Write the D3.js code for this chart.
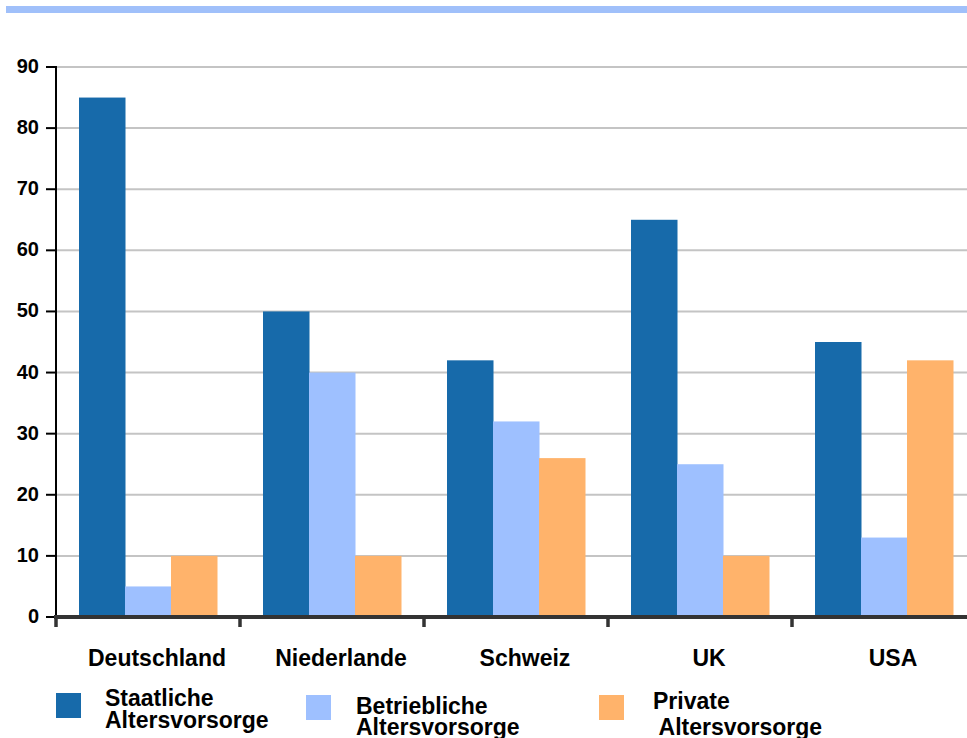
<!DOCTYPE html>
<html>
<head>
<meta charset="utf-8">
<script src="https://cdn.jsdelivr.net/npm/d3@7"></script>
<style>
  html, body { margin: 0; padding: 0; background: #fff; }
  svg { display: block; font-family: "Liberation Sans", Arial, sans-serif; font-weight: bold; }
</style>
</head>
<body>
<svg id="chart" width="967" height="738"></svg>
<script>
const categories = ["Deutschland", "Niederlande", "Schweiz", "UK", "USA"];
const seriesNames = ["Staatliche Altersvorsorge", "Betriebliche Altersvorsorge", "Private Altersvorsorge"];
const legendLines = [["Staatliche", "Altersvorsorge"], ["Betriebliche", "Altersvorsorge"], ["Private", " Altersvorsorge"]];
const staatliche = [85, 50, 42, 65, 45];
const betriebliche = [5, 40, 32, 25, 13];
const privat = [10, 10, 26, 10, 42];
const yTicks = [0, 10, 20, 30, 40, 50, 60, 70, 80, 90];
const colors = ["#176aaa", "#9ec0ff", "#ffb36b"];

const series = [staatliche, betriebliche, privat];
const svg = d3.select("#chart");

// top band
svg.append("rect").attr("x", 6).attr("y", 6).attr("width", 961).attr("height", 7).attr("fill", "#a0c0fa");

const x = d3.scaleBand().domain(categories).range([56, 976]).paddingInner(0.25).paddingOuter(0.125);
const xs = d3.scaleBand().domain(seriesNames).range([0, x.bandwidth()]);
const y = d3.scaleLinear().domain([0, 90]).range([617, 67]);

// gridlines
svg.append("g").selectAll("line").data(yTicks.filter(d => d > 0)).join("line")
  .attr("x1", 56).attr("x2", 967)
  .attr("y1", d => y(d)).attr("y2", d => y(d))
  .attr("stroke", "#c4c4c4").attr("stroke-width", 2);

// bars
const groups = svg.append("g").selectAll("g").data(categories).join("g")
  .attr("transform", d => `translate(${x(d)},0)`);
groups.selectAll("rect").data((c, i) => seriesNames.map((s, j) => ({ s, j, v: series[j][i] }))).join("rect")
  .attr("x", d => xs(d.s))
  .attr("width", xs.bandwidth() + 0.5)
  .attr("y", d => y(d.v))
  .attr("height", d => y(0) - y(d.v))
  .attr("fill", d => colors[d.j]);

// y axis
const yAxis = svg.append("g");
yAxis.append("line").attr("x1", 56).attr("x2", 56).attr("y1", y(90) - 1).attr("y2", y(0)).attr("stroke", "#000").attr("stroke-width", 2);
yAxis.selectAll("line.tick").data(yTicks).join("line").attr("class", "tick")
  .attr("x1", 46).attr("x2", 56).attr("y1", d => y(d)).attr("y2", d => y(d))
  .attr("stroke", "#000").attr("stroke-width", 2);
yAxis.selectAll("text").data(yTicks).join("text")
  .attr("x", 39).attr("y", d => y(d) + 6)
  .attr("text-anchor", "end").attr("font-size", 20).attr("fill", "#000")
  .text(d => d);

// x axis
const xAxis = svg.append("g");
xAxis.append("line").attr("x1", 54).attr("x2", 967).attr("y1", y(0)).attr("y2", y(0)).attr("stroke", "#333").attr("stroke-width", 4);
const tickPos = categories.map(c => x(c) - x.step() * x.paddingInner() / 2);
xAxis.selectAll("line.tick").data(tickPos).join("line").attr("class", "tick")
  .attr("x1", d => d).attr("x2", d => d).attr("y1", y(0)).attr("y2", y(0) + 10)
  .attr("stroke", "#333").attr("stroke-width", 3.5);
xAxis.selectAll("text").data(categories).join("text")
  .attr("x", d => x(d) + x.bandwidth() / 2 + 9).attr("y", 666)
  .attr("text-anchor", "middle").attr("font-size", 23).attr("fill", "#000")
  .text(d => d);

// legend
const legendLayout = [
  { sx: 56, sy: 693, tx: 105, b1: 706, b2: 728 },
  { sx: 306, sy: 695, tx: 356, b1: 714, b2: 735 },
  { sx: 599, sy: 695, tx: 653, b1: 709, b2: 735 }
];
const leg = svg.append("g").selectAll("g").data(seriesNames).join("g");
leg.append("rect")
  .attr("x", (d, i) => legendLayout[i].sx).attr("y", (d, i) => legendLayout[i].sy)
  .attr("width", 25).attr("height", 25).attr("fill", (d, i) => colors[i]);
leg.each(function (d, i) {
  const g = d3.select(this);
  const L = legendLayout[i];
  g.append("text").attr("x", L.tx).attr("y", L.b1).attr("font-size", 23).attr("fill", "#000").attr("xml:space", "preserve").style("white-space", "pre").text(legendLines[i][0]);
  g.append("text").attr("x", L.tx).attr("y", L.b2).attr("font-size", 23).attr("fill", "#000").attr("xml:space", "preserve").style("white-space", "pre").text(legendLines[i][1]);
});
</script>
</body>
</html>
